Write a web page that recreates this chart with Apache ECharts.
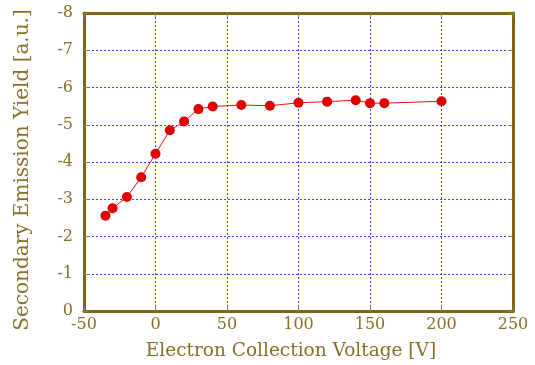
<!DOCTYPE html>
<html><head><meta charset="utf-8">
<script src="https://cdn.jsdelivr.net/npm/echarts@6/dist/echarts.min.js"></script>
<style>html,body{margin:0;padding:0;background:#fff}#c{width:535px;height:365px}</style>
</head><body><div id="c"></div>
<script>
const voltage = [-35, -30, -20, -10, 0, 10, 20, 30, 40, 60, 80, 100, 120, 140, 150, 160, 200];
const yieldVals = [-2.56, -2.76, -3.06, -3.59, -4.22, -4.85, -5.09, -5.42, -5.49, -5.53, -5.51, -5.59, -5.62, -5.66, -5.58, -5.58, -5.63];
const xTicks = [-50, 0, 50, 100, 150, 200, 250];
const yTicks = [0, -1, -2, -3, -4, -5, -6, -7, -8];

const frame = '#7d6612';
const textC = '#85702a';
const font = 'DejaVu Serif';
const grid = {type: [2, 2], color: '#3a3af2', width: 1};
const tick = {show: true, inside: true, length: 5, lineStyle: {color: '#8c8060', width: 1}};

const chart = echarts.init(document.getElementById('c'));
chart.setOption({
  animation: false,
  grid: {left: 84, right: 22, top: 13, bottom: 54, outerBoundsMode: 'none', containLabel: false},
  xAxis: [{
    type: 'value', min: xTicks[0], max: xTicks[xTicks.length - 1], interval: 50,
    name: 'Electron Collection Voltage [V]', nameLocation: 'middle', nameGap: 31,
    nameTextStyle: {fontFamily: font, fontSize: 18.5, color: textC, padding: [0, 15, 0, 0]},
    axisLine: {show: true, onZero: false, lineStyle: {color: frame, width: 3}},
    axisTick: tick,
    axisLabel: {fontFamily: font, fontSize: 16, color: textC, margin: 6},
    splitLine: {show: true, lineStyle: grid}
  }, {
    type: 'value', position: 'top', min: xTicks[0], max: xTicks[xTicks.length - 1], interval: 50,
    axisLine: {show: true, onZero: false, lineStyle: {color: frame, width: 3}},
    axisTick: tick, axisLabel: {show: false}, splitLine: {show: false}
  }],
  yAxis: [{
    type: 'value', inverse: true, min: -8, max: 0, interval: 1,
    name: 'Secondary Emission Yield [a.u.]', nameLocation: 'middle', nameGap: 51,
    nameTextStyle: {fontFamily: font, fontSize: 20, color: textC, padding: [0, 16, 0, 0]},
    axisLine: {show: true, onZero: false, lineStyle: {color: frame, width: 3}},
    axisTick: tick,
    axisLabel: {fontFamily: font, fontSize: 16, color: textC, margin: 11},
    splitLine: {show: true, lineStyle: grid}
  }, {
    type: 'value', position: 'right', inverse: true, min: -8, max: 0, interval: 1,
    axisLine: {show: true, onZero: false, lineStyle: {color: frame, width: 3}},
    axisTick: tick, axisLabel: {show: false}, splitLine: {show: false}
  }],
  series: [{
    type: 'line',
    data: voltage.map((v, i) => [v, yieldVals[i]]),
    symbol: 'circle', symbolSize: 10,
    lineStyle: {color: '#e01010', width: 1},
    itemStyle: {color: '#e00000'}
  }]
});
</script></body></html>
